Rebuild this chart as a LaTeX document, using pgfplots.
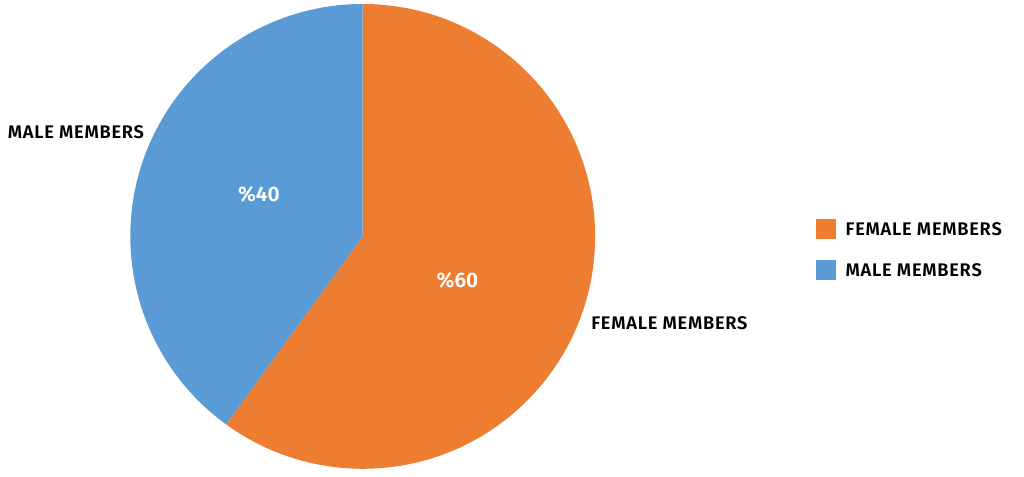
\documentclass[border=0pt]{standalone}
\usepackage{pgfplots}
\usepackage{pgfplotstable}
\pgfplotsset{compat=1.18}
\usepackage{fontspec}
\setmainfont{Fira Sans}[BoldFont={Fira Sans SemiBold}]
\newfontfamily\lblfont{Fira Sans SemiBold}[LetterSpace=4]
\definecolor{cfem}{HTML}{ED7D31}
\definecolor{cmale}{HTML}{5B9BD5}
\pgfplotstableread{
label value
female 60
male 40
}\piedata
\begin{document}
\pgfplotstablegetelem{0}{value}\of\piedata \let\vf\pgfplotsretval
\pgfplotstablegetelem{1}{value}\of\piedata \let\vm\pgfplotsretval
\pgfmathsetmacro{\aend}{90-3.6*\vf}
\begin{tikzpicture}
\begin{axis}[
  width=1024pt, height=478pt, scale only axis,
  xmin=0, xmax=1024, ymin=0, ymax=478,
  hide axis, clip=false,
  font=\bfseries,
]
\fill[cfem] (axis cs:361,241) -- ++(90:233pt) arc[start angle=90, end angle=\aend, radius=233pt] -- cycle;
\fill[cmale] (axis cs:361,241) -- ++(\aend:233pt) arc[start angle=\aend, end angle=-270, radius=233pt] -- cycle;
\node[white, font=\fontsize{21}{24}\selectfont\bfseries] at (axis cs:456,197) {\%\vf};
\node[white, font=\fontsize{21}{24}\selectfont\bfseries] at (axis cs:257,283) {\%\vm};
\node[anchor=west, inner sep=0pt, font=\fontsize{18.3}{20}\lblfont] at (axis cs:5,345) {MALE MEMBERS};
\node[anchor=west, inner sep=0pt, font=\fontsize{18.3}{20}\lblfont] at (axis cs:590,154) {FEMALE MEMBERS};
\fill[cfem] (axis cs:815,238) rectangle (axis cs:835,258);
\fill[cmale] (axis cs:815,197) rectangle (axis cs:835,217);
\node[anchor=west, inner sep=0pt, font=\fontsize{18.3}{20}\lblfont] at (axis cs:845,248) {FEMALE MEMBERS};
\node[anchor=west, inner sep=0pt, font=\fontsize{18.3}{20}\lblfont] at (axis cs:845,207) {MALE MEMBERS};
\end{axis}
\pgfresetboundingbox
\useasboundingbox (0,0) rectangle (1024pt,478pt);
\end{tikzpicture}
\end{document}
